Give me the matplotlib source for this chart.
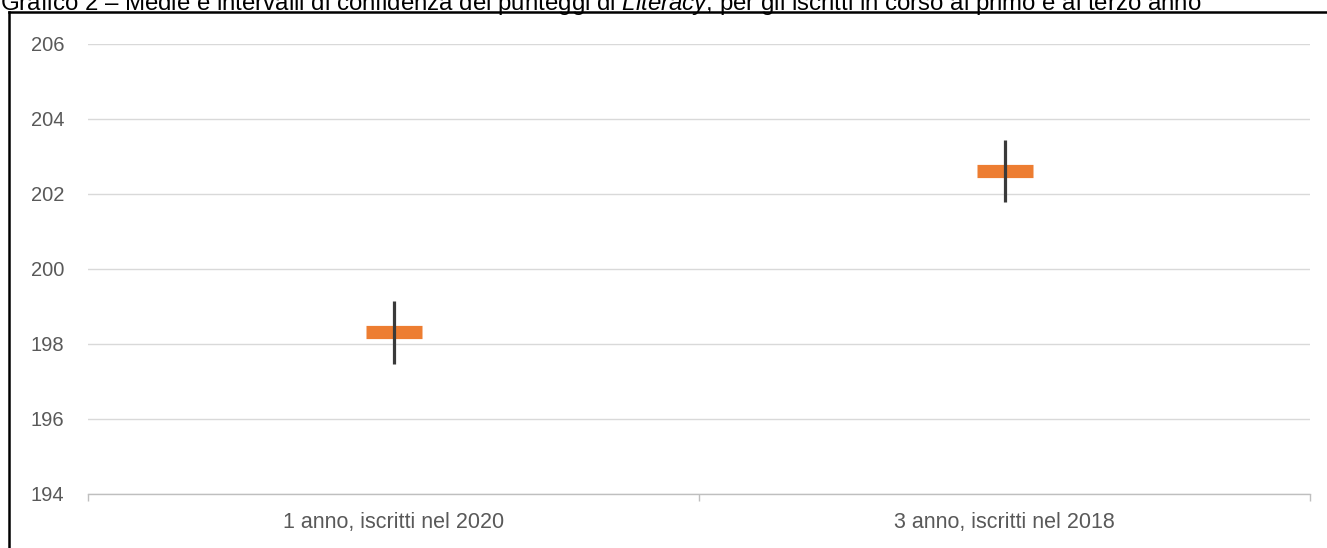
import matplotlib
matplotlib.use("Agg")
import matplotlib.pyplot as plt
from matplotlib.lines import Line2D
import numpy as np

# data
categories = ["1 anno, iscritti nel 2020", "3 anno, iscritti nel 2018"]
means = [198.31, 202.61]
ci_half = [0.84, 0.82]
yticks = [194, 196, 198, 200, 202, 204, 206]

plt.rcParams["mathtext.fontset"] = "custom"
plt.rcParams["mathtext.it"] = "Liberation Sans:italic"
plt.rcParams["mathtext.rm"] = "Liberation Sans"

W, H = 1327, 548
fig = plt.figure(figsize=(W / 100, H / 100), dpi=100)
fig.patch.set_facecolor("white")

# axes placed to match the reference plot area
ax = fig.add_axes([88 / W, 1 - 494 / H, (1310 - 88) / W, (494 - 44) / H])

x = np.arange(len(categories))

# confidence interval lines, drawn over the orange mean markers
ax.errorbar(x, means, yerr=ci_half, fmt="none", ecolor="#3a3a3a",
            elinewidth=2.3, capsize=0, zorder=4)
ax.plot(x, means, linestyle="none", marker="_", markersize=40,
        markeredgewidth=9.5, color="#ED7D31", zorder=3)

ax.set_xlim(-0.5, len(categories) - 0.5)
ax.set_ylim(yticks[0], yticks[-1])
ax.set_yticks(yticks)
ax.set_yticklabels([str(t) for t in yticks])
ax.set_xticks(x)
ax.set_xticklabels(categories)
ax.set_xticks(np.arange(-0.5, len(categories)), minor=True)

ax.grid(axis="y", color="#d9d9d9", linewidth=1.0, zorder=0)
ax.set_axisbelow(True)

for s in ["left", "right", "top"]:
    ax.spines[s].set_visible(False)
ax.spines["bottom"].set_color("#bfbfbf")
ax.spines["bottom"].set_linewidth(1.0)

ax.tick_params(axis="y", length=0, pad=17, labelsize=14.5, labelcolor="#595959")
ax.tick_params(axis="x", which="major", length=0, pad=13, labelsize=15.5,
               labelcolor="#595959")
ax.tick_params(axis="x", which="minor", length=5, color="#bfbfbf", width=1.0)

for lab in ax.get_yticklabels() + ax.get_xticklabels():
    lab.set_fontfamily("Liberation Sans")

# black frame (top and left) of the original figure box
fig.add_artist(Line2D([9 / W, 1.0], [1 - 12 / H, 1 - 12 / H], color="black",
                      linewidth=1.8, transform=fig.transFigure))
fig.add_artist(Line2D([9 / W, 9 / W], [0.0, 1 - 12 / H], color="black",
                      linewidth=1.8, transform=fig.transFigure))

# title, partly cut off at the top as in the reference
fig.text(0.0, 1 - 10 / H,
         "Grafico 2 \u2013 Medie e intervalli di confidenza dei punteggi di "
         r"$\it{Literacy}$, per gli iscritti in corso al primo e al terzo anno",
         ha="left", va="baseline", fontsize=17.3, color="black",
         family="Liberation Sans")

fig.savefig("out.png", dpi=100)
